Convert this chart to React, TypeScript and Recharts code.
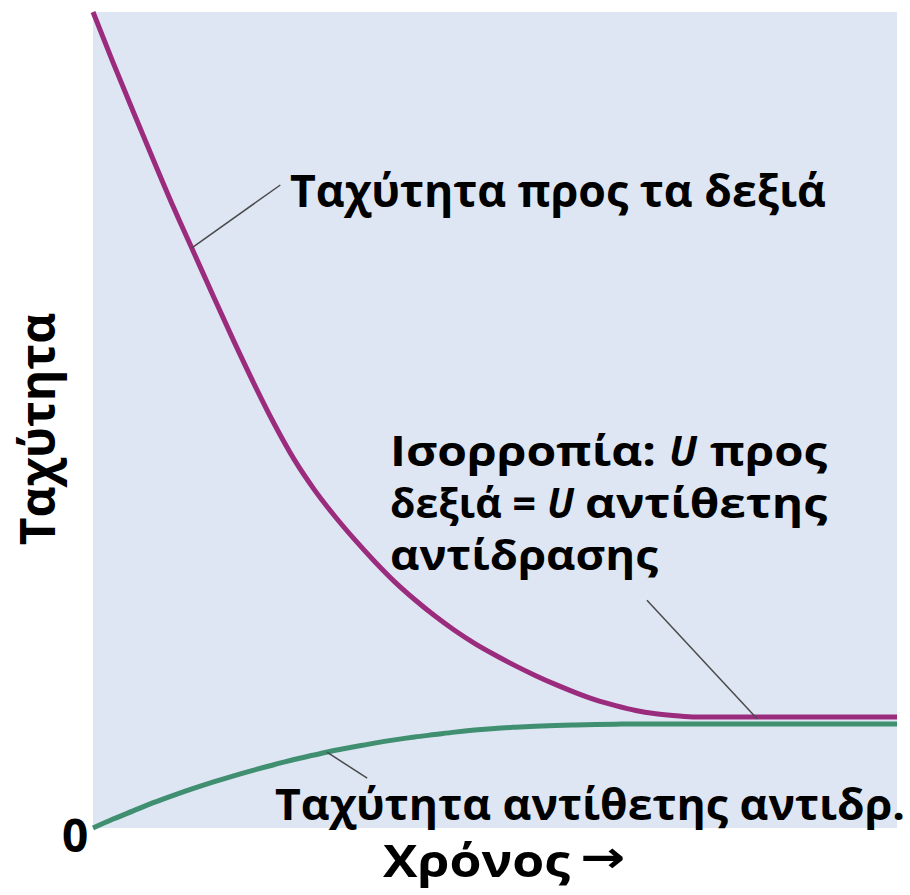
import { LineChart, Line, XAxis, YAxis, CartesianGrid, ReferenceLine } from 'recharts';

// time axis (arbitrary units 0..100)
const times = [0, 2.5, 5, 7.5, 10, 12.5, 15, 17.5, 20, 22.5, 25, 27.5, 30, 32.5, 35, 37.5, 40, 42.5, 45, 47.5, 50, 52.5, 55, 57.5, 60, 62.5, 65, 67.5, 70, 72.5, 75, 80, 90, 100];

// rate of the forward reaction (to the right)
const forwardRate = [100, 93.8, 87.8, 81.9, 76.1, 70.6, 65.1, 59.7, 54.5, 49.6, 45.2, 41.5, 38.3, 35.4, 32.7, 30.2, 28, 26, 24.2, 22.6, 21.2, 19.9, 18.7, 17.6, 16.6, 15.7, 15, 14.4, 14, 13.75, 13.6, 13.6, 13.6, 13.6];

// rate of the reverse reaction
const reverseRate = [0, 1.1, 2.1, 3.1, 4, 4.85, 5.65, 6.4, 7.1, 7.75, 8.4, 8.95, 9.5, 9.95, 10.4, 10.8, 11.15, 11.45, 11.75, 12, 12.2, 12.35, 12.48, 12.57, 12.63, 12.68, 12.72, 12.75, 12.75, 12.75, 12.75, 12.75, 12.75, 12.75];

const data = times.map((t, i) => ({ t, forward: forwardRate[i], reverse: reverseRate[i] }));

const FONT = '"Open Sans", sans-serif';
const W = 910;
const H = 895;

const textStyle = { fontFamily: FONT, fontWeight: 700, fill: '#000' } as const;
const italic = { ...textStyle, fontStyle: 'italic' } as const;

export default function App() {
  return (
    <div style={{ position: 'absolute', left: 0, top: 0, width: W, height: H, background: '#fff' }}>
      <LineChart width={W} height={H} data={data} margin={{ top: 12, right: 13, left: 93, bottom: 67 }}>
        <CartesianGrid horizontal={false} vertical={false} fill="#dee6f4" />
        <XAxis dataKey="t" type="number" domain={[0, 100]} hide />
        <YAxis type="number" domain={[0, 100]} hide />
        <Line
          type="monotone"
          dataKey="reverse"
          stroke="#3f8f70"
          strokeWidth={5}
          dot={false}
          isAnimationActive={false}
        />
        <Line
          type="monotone"
          dataKey="forward"
          stroke="#9b2c7d"
          strokeWidth={5}
          dot={false}
          isAnimationActive={false}
        />
        <ReferenceLine segment={[{ x: 12.3, y: 71.1 }, { x: 23.3, y: 78.8 }]} stroke="#4a4a4a" strokeWidth={1.5} />
        <ReferenceLine segment={[{ x: 68.9, y: 27.9 }, { x: 82.6, y: 13.4 }]} stroke="#4a4a4a" strokeWidth={1.5} />
        <ReferenceLine segment={[{ x: 29.1, y: 9.3 }, { x: 34.1, y: 6.1 }]} stroke="#4a4a4a" strokeWidth={1.5} />
      </LineChart>

      <svg width={W} height={H} style={{ position: 'absolute', left: 0, top: 0, pointerEvents: 'none' }}>
        <text x={290} y={207} fontSize={44} textLength={536} lengthAdjust="spacingAndGlyphs" style={textStyle}>
          Ταχύτητα προς τα δεξιά
        </text>

        <text x={390} y={466} fontSize={41} textLength={266} lengthAdjust="spacingAndGlyphs" style={textStyle}>
          Ισορροπία:
        </text>
        <text x={669} y={466} fontSize={41} textLength={28} lengthAdjust="spacingAndGlyphs" style={italic}>
          U
        </text>
        <text x={710} y={466} fontSize={41} textLength={117} lengthAdjust="spacingAndGlyphs" style={textStyle}>
          προς
        </text>

        <text x={390} y={518} fontSize={41} textLength={146} lengthAdjust="spacingAndGlyphs" style={textStyle}>
          δεξιά =
        </text>
        <text x={547} y={518} fontSize={41} textLength={27} lengthAdjust="spacingAndGlyphs" style={italic}>
          U
        </text>
        <text x={585} y={518} fontSize={41} textLength={242} lengthAdjust="spacingAndGlyphs" style={textStyle}>
          αντίθετης
        </text>

        <text x={390} y={570} fontSize={42} textLength={268} lengthAdjust="spacingAndGlyphs" style={textStyle}>
          αντίδρασης
        </text>

        <text x={275} y={820} fontSize={43} textLength={630} lengthAdjust="spacingAndGlyphs" style={textStyle}>
          Ταχύτητα αντίθετης αντιδρ.
        </text>

        <text x={383} y={877} fontSize={45} textLength={187} lengthAdjust="spacingAndGlyphs" style={textStyle}>
          Χρόνος
        </text>
        <text
          x={580}
          y={872}
          fontSize={44}
          textLength={45}
          lengthAdjust="spacingAndGlyphs"
          style={{ fontFamily: '"DejaVu Sans", sans-serif', fontWeight: 700, fill: '#000' }}
        >
          →
        </text>

        <text x={62} y={852} fontSize={46} style={textStyle}>
          0
        </text>
        <text
          x={0}
          y={0}
          fontSize={48}
          textAnchor="middle"
          transform="translate(55,429) rotate(-90)"
          style={textStyle}
        >
          Ταχύτητα
        </text>
      </svg>
    </div>
  );
}
